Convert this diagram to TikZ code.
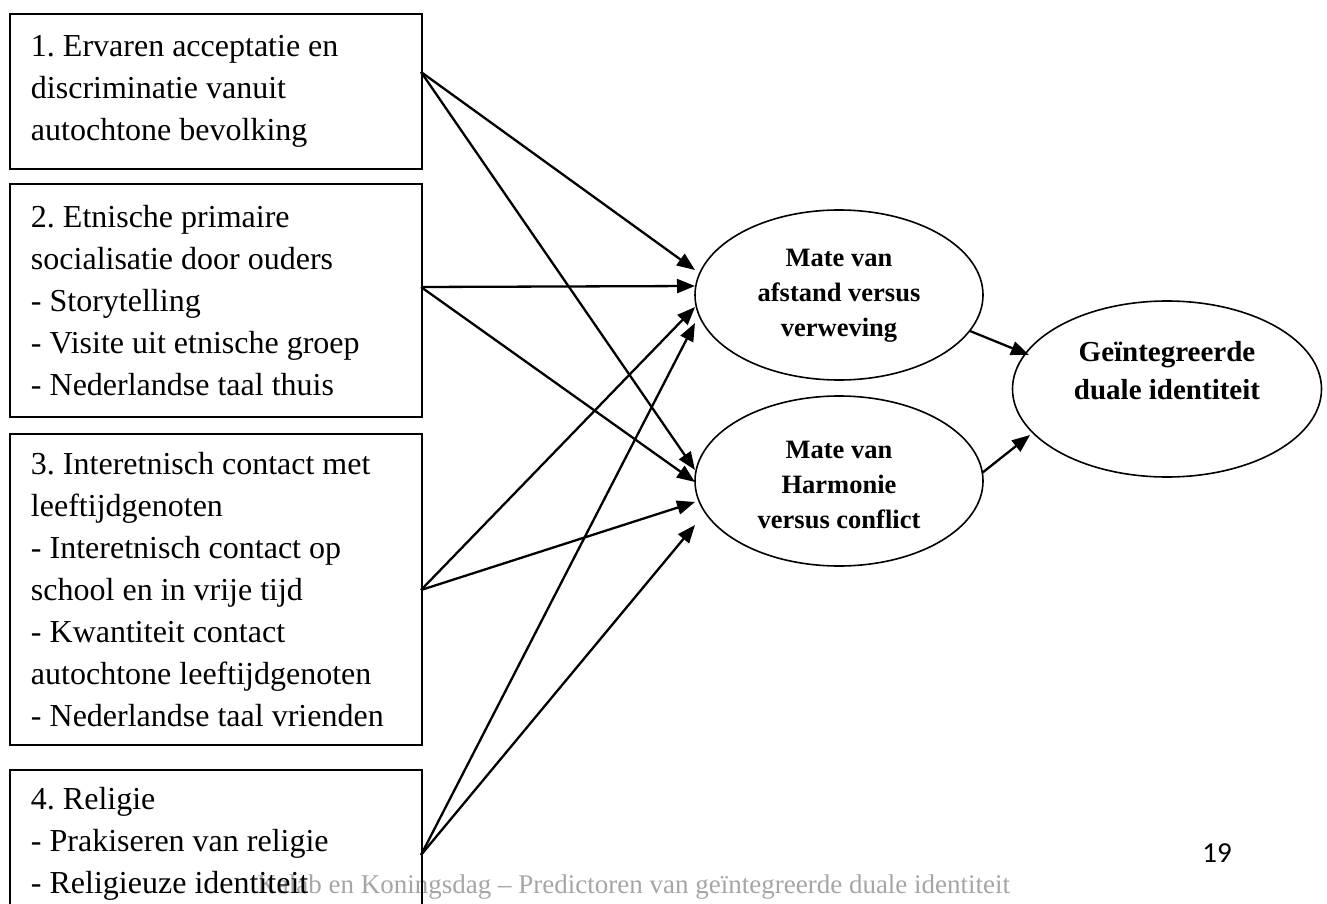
\documentclass[tikz,border=0pt]{standalone}
\usepackage{fontspec}
\setmainfont{Liberation Serif}
\newfontfamily\pagefont{Carlito}
\usetikzlibrary{arrows.meta,shapes.geometric}
\definecolor{footgray}{RGB}{165,165,165}
\begin{document}
\frenchspacing
\begin{tikzpicture}[x=0.5pt,y=-0.5pt,
  box/.style={draw, line width=1pt, anchor=north west, minimum width=206pt,
    text width=185pt, align=flush left, inner xsep=10.5pt, inner ysep=0pt,
    font=\frenchspacing\fontsize{16}{21}\selectfont},
  ell/.style={draw, ellipse, line width=0.8pt, inner sep=0pt},
  etext/.style={align=center, inner sep=0pt, font=\frenchspacing\bfseries\fontsize{13.25}{17.5}\selectfont},
  arr/.style={line width=1.15pt, -{Triangle[length=9pt,width=7pt]}},
  footer/.style={text=footgray, inner sep=0pt, font=\frenchspacing\fontsize{13.5}{16}\selectfont}
]
\useasboundingbox (0,0) rectangle (1327,904);

% footer and page number
\node[footer, anchor=base west] (ft) at (257,893) {Kalab en Koningsdag -- Predictoren van geïntegreerde duale identiteit};
\node[anchor=base west, inner sep=0pt, font=\pagefont\fontsize{14.5}{17}\selectfont] (pg) at (1202,862) {19};

% boxes
\node[box, minimum height=77.5pt] (b1) at (9,13)
  {1. Ervaren acceptatie en\\discriminatie vanuit\\autochtone bevolking};
\node[box, minimum height=116.5pt] (b2) at (9,183)
  {2. Etnische primaire\\socialisatie door ouders\\- Storytelling\\- Visite uit etnische groep\\- Nederlandse taal thuis};
\node[box, minimum height=155.5pt] (b3) at (9,433)
  {3. Interetnisch contact met\\leeftijdgenoten\\- Interetnisch contact op\\school en in vrije tijd\\- Kwantiteit contact\\autochtone leeftijdgenoten\\- Nederlandse taal vrienden};
\node[box, minimum height=74pt] (b4) at (9,769)
  {4. Religie\\- Prakiseren van religie\\- Religieuze identiteit};

% ellipses
\node[ell, minimum width=144pt, minimum height=85pt] (e1) at (839,295) {};
\node[ell, minimum width=144pt, minimum height=85pt] (e2) at (839,481) {};
\node[ell, minimum width=154.5pt, minimum height=88pt] (e3) at (1167,389) {};
\node[etext] (t1) at (839,296) {Mate van\\afstand versus\\verweving};
\node[etext] (t2) at (839,485) {Mate van\\Harmonie\\versus conflict};
\node[etext, font=\bfseries\fontsize{14.5}{19}\selectfont] (t3) at (1167,371) {Geïntegreerde\\duale identiteit};

% connector end points
\coordinate (s1) at (421,72);
\coordinate (s2) at (421,287);
\coordinate (s3) at (421,590);
\coordinate (s4) at (421,855);
\coordinate (a1) at (695,270);
\coordinate (a2) at (695,286);
\coordinate (a3) at (695,307);
\coordinate (a4) at (695,323);
\coordinate (c1) at (695,470);
\coordinate (c2) at (695,482);
\coordinate (c3) at (695,502);
\coordinate (c4) at (695,525);
\coordinate (o1) at (970,331);
\coordinate (i1) at (1029,355);
\coordinate (o2) at (982,473);
\coordinate (i2) at (1030,435);

\draw[arr] (s1) -- (a1);
\draw[arr] (s1) -- (c1);
\draw[arr] (s2) -- (a2);
\draw[arr] (s2) -- (c2);
\draw[arr] (s3) -- (a3);
\draw[arr] (s3) -- (c3);
\draw[arr] (s4) -- (a4);
\draw[arr] (s4) -- (c4);
\draw[arr] (o1) -- (i1);
\draw[arr] (o2) -- (i2);
\end{tikzpicture}
\end{document}
